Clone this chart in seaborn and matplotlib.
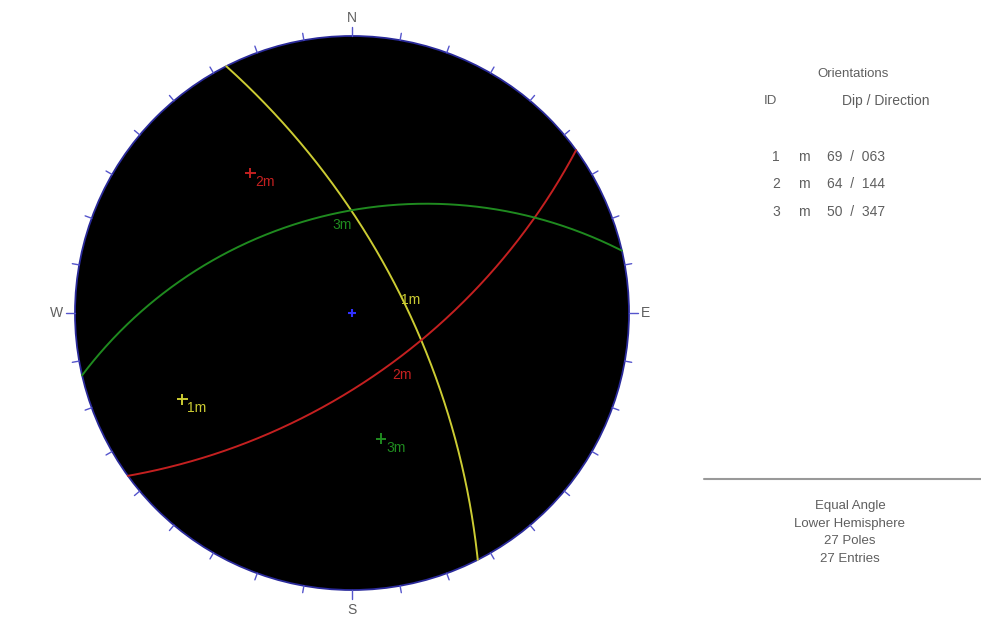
import numpy as np
import pandas as pd
import matplotlib
matplotlib.use("Agg")
import matplotlib.pyplot as plt
from matplotlib.patches import Circle
import seaborn as sns

# plane orientations (dip / dip direction)
plane_ids = ["1", "2", "3"]
plane_tags = ["m", "m", "m"]
dips = [69, 64, 50]
dip_dirs = [63, 144, 347]
plane_colors = ["#cccc33", "#c42020", "#1f8a1f"]

info_lines = ["Equal Angle", "Lower Hemisphere", "27 Poles", "27 Entries"]

W_PX, H_PX = 981, 637
CX, CY, R = 352, 313, 277  # stereonet centre / radius in pixels

sns.set_theme(style="white")
plt.rcParams["font.family"] = ["Liberation Sans", "DejaVu Sans"]
TXT = "#5f5f5f"


def stereo(v):
    e, n, d = v
    return e / (1 + d), n / (1 + d)


rows = []
poles = []
dip_pts = []
for pid, tag, dip, ddir in zip(plane_ids, plane_tags, dips, dip_dirs):
    a, b = np.radians(ddir), np.radians(dip)
    s = np.array([np.sin(a - np.pi / 2), np.cos(a - np.pi / 2), 0.0])
    dv = np.array([np.cos(b) * np.sin(a), np.cos(b) * np.cos(a), np.sin(b)])
    for t in np.linspace(0, np.pi, 361):
        x, y = stereo(s * np.cos(t) + dv * np.sin(t))
        rows.append({"plane": pid, "x": x, "y": y})
    px, py = stereo((-np.sin(b) * np.sin(a), -np.sin(b) * np.cos(a), np.cos(b)))
    poles.append({"plane": pid, "x": px, "y": py, "label": pid + tag})
    qx, qy = stereo(dv)
    dip_pts.append({"plane": pid, "x": qx, "y": qy, "label": pid + tag})

circles = pd.DataFrame(rows)
pole_df = pd.DataFrame(poles)
dip_df = pd.DataFrame(dip_pts)
palette = dict(zip(plane_ids, plane_colors))

fig = plt.figure(figsize=(W_PX / 100, H_PX / 100), dpi=100)
half = 312
ax = fig.add_axes([(CX - half) / W_PX, (H_PX - CY - half) / H_PX, 2 * half / W_PX, 2 * half / H_PX])
lim = half / R
ax.set_xlim(-lim, lim)
ax.set_ylim(-lim, lim)
ax.set_aspect("equal")
ax.axis("off")

ax.add_patch(Circle((0, 0), 1, facecolor="black", edgecolor="#2a2a9a", lw=1.3, zorder=0))

# ticks every 10 degrees
for az in range(0, 360, 10):
    ar = np.radians(az)
    L = 1 + (9 if az % 90 == 0 else 7) / R
    ax.plot([np.sin(ar), L * np.sin(ar)], [np.cos(ar), L * np.cos(ar)], color="#5555cc", lw=1, zorder=1)

for lab, (dx, dy) in {"N": (0, 295), "S": (0, -297), "E": (293, 0), "W": (-295, 0)}.items():
    ax.text(dx / R, dy / R, lab, ha="center", va="center", fontsize=10, color=TXT)

sns.lineplot(data=circles, x="x", y="y", hue="plane", palette=palette, sort=False,
             estimator=None, units="plane", lw=1.4, legend=False, ax=ax, zorder=2)
sns.scatterplot(data=pole_df, x="x", y="y", hue="plane", palette=palette, marker="+",
                s=60, linewidth=1.4, legend=False, ax=ax, zorder=3)
ax.plot([0], [0], marker="+", color="#3030ff", ms=6, mew=1.5, zorder=3)

for _, r in pole_df.iterrows():
    ax.annotate(r["label"], (r["x"], r["y"]), xytext=(3.5, -6.5), textcoords="offset points",
                ha="left", va="center", fontsize=10, color=palette[r["plane"]])
for _, r in dip_df.iterrows():
    ax.annotate(r["label"], (r["x"], r["y"]), xytext=(2, -7.5), textcoords="offset points",
                ha="left", va="center", fontsize=10, color=palette[r["plane"]])


def fx(px):
    return px / W_PX


def fy(py):
    return 1 - py / H_PX


fig.text(fx(853), fy(74), "Orientations", ha="center", va="center", fontsize=9.5, color=TXT)
fig.text(fx(770), fy(101), "ID", ha="center", va="center", fontsize=9.5, color=TXT)
fig.text(fx(886), fy(101), "Dip / Direction", ha="center", va="center", fontsize=10, color=TXT)
for i, (pid, tag, dip, ddir) in enumerate(zip(plane_ids, plane_tags, dips, dip_dirs)):
    y = 157 + i * 27.5
    fig.text(fx(776), fy(y), pid, ha="center", va="center", fontsize=10, color=TXT)
    fig.text(fx(804), fy(y), tag, ha="center", va="center", fontsize=10, color=TXT)
    fig.text(fx(856), fy(y), f"{dip:02d}  /  {ddir:03d}", ha="center", va="center", fontsize=10, color=TXT)

fig.add_artist(plt.Line2D([fx(704), fx(981)], [fy(479), fy(479)], color="#999999", lw=1.5))
for i, line in enumerate(info_lines):
    fig.text(fx(850), fy(506 + i * 17.5), line, ha="center", va="center", fontsize=9.5, color=TXT)

fig.savefig("out.png", dpi=100, facecolor="white")
